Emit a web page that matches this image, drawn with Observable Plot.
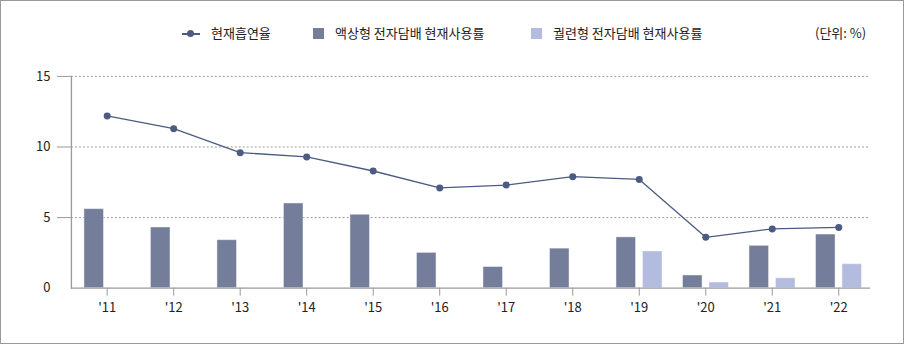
<!DOCTYPE html>
<html>
<head>
<meta charset="utf-8">
<script src="https://cdn.jsdelivr.net/npm/d3@7"></script>
<script src="https://cdn.jsdelivr.net/npm/@observablehq/plot@0.6"></script>
<style>
  html, body { margin: 0; padding: 0; background: #fff; }
  #wrap { position: relative; width: 904px; height: 344px; box-sizing: border-box; border: 1px solid #9a9a9a; overflow: hidden; font-family: "Noto Sans CJK KR", "Noto Sans", sans-serif; }
  #chart { position: absolute; left: -1px; top: -1px; }
  .leg { position: absolute; top: 22px; font-size: 13px; color: #222; line-height: 20px; white-space: nowrap; }
  .sw { display: inline-block; width: 11px; height: 11px; vertical-align: -1px; margin-right: 11px; }
  .ln { display: inline-block; position: relative; width: 18px; height: 20px; vertical-align: top; margin-right: 11px; }
  .ln::before { content: ""; position: absolute; left: 0; right: 0; top: 10px; height: 1.5px; background: #4b5b82; }
  .ln::after { content: ""; position: absolute; left: 5px; top: 7px; width: 7px; height: 7px; border-radius: 50%; background: #4b5b82; }
</style>
</head>
<body>
<div id="wrap">
  <div id="chart"></div>
</div>
<script>
const years = ["'11","'12","'13","'14","'15","'16","'17","'18","'19","'20","'21","'22"];
const smokingRate = [12.2, 11.3, 9.6, 9.3, 8.3, 7.1, 7.3, 7.9, 7.7, 3.6, 4.2, 4.3];
const liquidRate = [5.6, 4.3, 3.4, 6.0, 5.2, 2.5, 1.5, 2.8, 3.6, 0.9, 3.0, 3.8];
const heatedYears = ["'19","'20","'21","'22"];
const heatedRate = [2.6, 0.4, 0.7, 1.7];
const yTicks = [0, 5, 10, 15];
const seriesNames = ["현재흡연율", "액상형 전자담배 현재사용률", "궐련형 전자담배 현재사용률"];
const unitLabel = "(단위: %)";
const colors = { line: "#4b5b82", liquid: "#747d99", heated: "#b3bbdf" };

const lineData = years.map((y, i) => ({year: y, v: smokingRate[i]}));
const liquidData = years.map((y, i) => ({year: y, v: liquidRate[i]}));
const heatedData = heatedYears.map((y, i) => ({year: y, v: heatedRate[i]}));

const chart = Plot.plot({
  width: 904,
  height: 344,
  marginTop: 76,
  marginBottom: 56,
  marginLeft: 71,
  marginRight: 33,
  style: { fontFamily: "'Noto Sans CJK KR', 'Noto Sans', sans-serif", fontSize: "13px", color: "#222", background: "transparent" },
  x: { type: "band", domain: years, range: [73.5, 872.5], padding: 0, round: false, label: null },
  y: { domain: [0, 15], label: null },
  marks: [
    Plot.gridY(yTicks.filter(d => d > 0), { stroke: "#9a9a9a", strokeOpacity: 1, strokeDasharray: "2,2", strokeWidth: 1 }),
    Plot.barY(liquidData, { x: "year", y: "v", fill: colors.liquid, dx: -13, insetLeft: 23.5, insetRight: 23.5, stroke: "#fff", strokeOpacity: 0.45, strokeWidth: 1 }),
    Plot.barY(heatedData, { x: "year", y: "v", fill: colors.heated, dx: 13.5, insetLeft: 23.5, insetRight: 23.5, stroke: "#fff", strokeOpacity: 0.45, strokeWidth: 1 }),
    Plot.line(lineData, { x: "year", y: "v", stroke: colors.line, strokeWidth: 1.3 }),
    Plot.dot(lineData, { x: "year", y: "v", fill: colors.line, r: 3.5, stroke: null }),
    Plot.axisY(yTicks.filter(d => d > 0), { tickSize: 14, text: null, stroke: "#9a9a9a", label: null }),
    Plot.axisY(yTicks, { tickSize: 0, tickPadding: 21, label: null, fontSize: 13, fill: "#222" }),
    Plot.axisX({ tickSize: 8, tickPadding: 7, stroke: "#9a9a9a", label: null, fontSize: 13, fill: "#222" }),
    Plot.ruleY([0], { stroke: "#9a9a9a", strokeWidth: 1.3 }),
    Plot.frame({ anchor: "left", stroke: "#9a9a9a", strokeWidth: 1.3 })
  ]
});
document.getElementById("chart").appendChild(chart);

const wrap = document.getElementById("wrap");
function addLegend(left, html) {
  const d = document.createElement("div");
  d.className = "leg";
  d.style.left = left + "px";
  d.innerHTML = html;
  wrap.appendChild(d);
}
addLegend(181, `<span class="ln"></span>${seriesNames[0]}`);
addLegend(312, `<span class="sw" style="background:${colors.liquid}"></span>${seriesNames[1]}`);
addLegend(530, `<span class="sw" style="background:${colors.heated}"></span>${seriesNames[2]}`);
addLegend(814, unitLabel);
</script>
</body>
</html>
